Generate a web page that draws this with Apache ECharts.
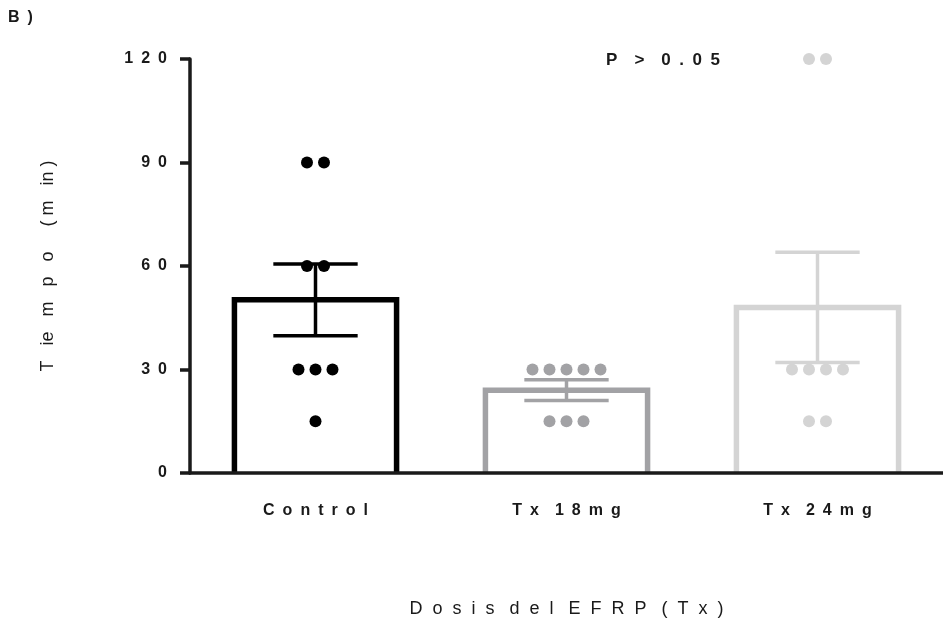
<!DOCTYPE html>
<html>
<head>
<meta charset="utf-8">
<script src="https://cdn.jsdelivr.net/npm/echarts@6/dist/echarts.min.js"></script>
<style>
html, body { margin: 0; padding: 0; background: #fff; }
#chart { width: 943px; height: 628px; }
</style>
</head>
<body>
<div id="chart"></div>
<script>
// datos (Tiempo en min)
var categories = ["Control", "Tx 18mg", "Tx 24mg"];
var means = [50.2, 24, 48];
var sem = [10.4, 3, 16];
var controlPoints = [90, 90, 60, 60, 30, 30, 30, 15];
var tx18Points = [30, 30, 30, 30, 30, 15, 15, 15];
var tx24Points = [120, 120, 30, 30, 30, 30, 15, 15];
var yTicks = [0, 30, 60, 90, 120];
var colors = ["#000000", "#a2a2a5", "#d4d4d4"];

var FONT = "'Liberation Sans', Arial, sans-serif";
var EN = "\u2002";

// separa las letras como en la figura original
function spaced(s, gap, wordGap) {
  return s.split(" ").map(function (w) { return w.split("").join(gap); }).join(wordGap);
}

// puntos individuales: los valores repetidos se reparten a lo ancho
function dots(points, cat) {
  var out = [];
  var groups = {};
  points.forEach(function (v) { groups[v] = (groups[v] || 0) + 1; });
  Object.keys(groups).forEach(function (k) {
    var n = groups[k];
    for (var i = 0; i < n; i++) {
      out.push({ value: [cat, Number(k)], symbolOffset: [(i - (n - 1) / 2) * 17, 0], itemStyle: { color: colors[cat], opacity: 1 } });
    }
  });
  return out;
}

var myChart = echarts.init(document.getElementById("chart"));

var option = {
  backgroundColor: "#fff",
  animation: false,
  grid: { left: 190, right: 0, top: 59, bottom: 155, outerBoundsMode: "none" },
  graphic: [
    { type: "text", left: 8, top: 10, style: { text: "B" + EN + ")", font: "bold 16px " + FONT, fill: "#1a1a1a" } },
    { type: "text", x: 663, y: 60, style: { text: "P" + EN + EN + ">" + EN + EN + spaced("0.05", EN, EN), font: "bold 17px " + FONT, fill: "#1a1a1a", textAlign: "center", textVerticalAlign: "middle" } }
  ],
  xAxis: {
    type: "category",
    data: categories,
    z: 10,
    axisLine: { lineStyle: { color: "#1a1a1a", width: 3.5 } },
    axisTick: { alignWithLabel: true, length: 9, lineStyle: { color: "#1a1a1a", width: 3 } },
    axisLabel: {
      margin: 30,
      color: "#1a1a1a",
      fontWeight: "bold",
      fontSize: 16,
      fontFamily: FONT,
      formatter: function (v) { return spaced(v, EN, EN + EN); }
    },
    name: spaced("Dosis del EFRP (Tx)", "  ", "   "),
    nameLocation: "middle",
    nameGap: 127,
    nameTextStyle: { color: "#1a1a1a", fontSize: 18, fontFamily: FONT }
  },
  yAxis: {
    type: "value",
    min: 0,
    max: 120,
    interval: 30,
    splitLine: { show: false },
    axisLine: { show: true, lineStyle: { color: "#1a1a1a", width: 3.5 } },
    axisTick: { show: true, length: 10, lineStyle: { color: "#1a1a1a", width: 3.5 } },
    axisLabel: {
      margin: 23,
      color: "#1a1a1a",
      fontWeight: "bold",
      fontSize: 16,
      fontFamily: FONT,
      formatter: function (v) { return yTicks.indexOf(v) >= 0 ? spaced(String(v), EN, EN) : ""; }
    },
    name: "T   ie   m   p   o     ( m   in )",
    nameLocation: "middle",
    nameGap: 133,
    nameTextStyle: { color: "#1a1a1a", fontSize: 18, fontFamily: FONT }
  },
  series: [
    {
      // barras huecas, abiertas por abajo
      type: "custom",
      data: means.map(function (m, i) { return [i, m]; }),
      renderItem: function (params, api) {
        var top = api.coord([api.value(0), api.value(1)]);
        var base = api.coord([api.value(0), 0]);
        var half = api.size([1, 0])[0] * 0.323;
        return {
          type: "polyline",
          shape: { points: [[top[0] - half, base[1]], [top[0] - half, top[1]], [top[0] + half, top[1]], [top[0] + half, base[1]]] },
          style: { stroke: colors[params.dataIndex], lineWidth: 5.5, fill: null, lineJoin: "miter" }
        };
      },
      z: 2
    },
    {
      // barras de error (media +- EEM)
      type: "custom",
      data: means.map(function (m, i) { return [i, m - sem[i], m + sem[i]]; }),
      renderItem: function (params, api) {
        var lo = api.coord([api.value(0), api.value(1)]);
        var hi = api.coord([api.value(0), api.value(2)]);
        var cap = api.size([1, 0])[0] * 0.168;
        var st = { stroke: colors[params.dataIndex], lineWidth: 3.5 };
        return {
          type: "group",
          children: [
            { type: "line", shape: { x1: lo[0], y1: lo[1], x2: hi[0], y2: hi[1] }, style: st },
            { type: "line", shape: { x1: lo[0] - cap, y1: lo[1], x2: lo[0] + cap, y2: lo[1] }, style: st },
            { type: "line", shape: { x1: hi[0] - cap, y1: hi[1], x2: hi[0] + cap, y2: hi[1] }, style: st }
          ]
        };
      },
      z: 3
    },
    {
      type: "scatter",
      symbol: "circle",
      symbolSize: 12,
      clip: false,
      z: 4,
      itemStyle: { opacity: 1 },
      data: dots(controlPoints, 0).concat(dots(tx18Points, 1), dots(tx24Points, 2))
    }
  ]
};

myChart.setOption(option);
</script>
</body>
</html>
